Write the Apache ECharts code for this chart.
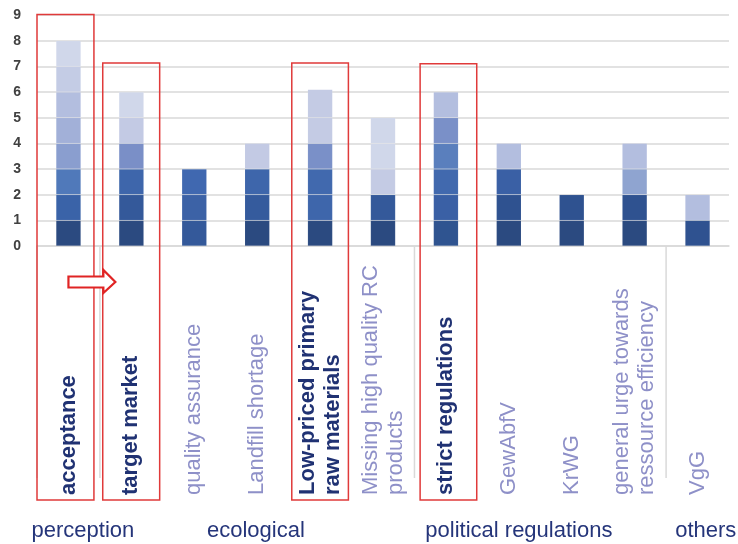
<!DOCTYPE html>
<html><head><meta charset="utf-8">
<script src="https://cdn.jsdelivr.net/npm/echarts@6/dist/echarts.min.js"></script>
<style>html,body{margin:0;padding:0;background:#fff}#c{width:738px;height:544px}</style>
</head><body><div id="c"></div>
<script>
const categories = ['acceptance','target market','quality assurance','Landfill shortage','Low-priced primary\nraw materials','Missing high quality RC\nproducts','strict regulations','GewAbfV','KrWG','general urge towards\nressource efficiency','VgG'];
const highlighted = ['acceptance','target market','Low-priced primary\nraw materials','strict regulations'];
const yTicks = [0,1,2,3,4,5,6,7,8,9];
// stacked segment values, level 1 (bottom) to level 8 (top)
const level1 = [1,1,1,1,1,1,1,1,1,1,1];
const level2 = [1,1,1,1,1,1,1,1,1,1,1];
const level3 = [1,1,1,1,1,1,1,1,0,1,0];
const level4 = [1,1,0,1,1,1,1,1,0,1,0];
const level5 = [1,1,0,0,1,1,1,0,0,0,0];
const level6 = [1,1,0,0,1.1,0,1,0,0,0,0];
const level7 = [1,0,0,0,0,0,0,0,0,0,0];
const level8 = [1,0,0,0,0,0,0,0,0,0,0];
const levels = [level1,level2,level3,level4,level5,level6,level7,level8];
const groupLabels = ['perception','ecological','political regulations','others'];
const groupLabelPos = [0.23, 2.98, 7.16, 10.13];   // in category units
const groupSeparators = [-0.5, 0.5, 5.5, 9.5];
// segment colours per category, bottom to top (style only)
const segColors = [
  ['#2b4a80','#3a63a8','#5079ba','#8a9ecf','#a2b0d8','#b3bedf','#c4cce5','#d0d7ea'],
  ['#2b4a80','#34599a','#3e66ab','#7a8fc7','#c3cae4','#d0d7ea'],
  ['#34599a','#3c62a6','#4068b0'],
  ['#2b4a80','#355b9d','#3e66ab','#c3cae4'],
  ['#2b4a80','#3e66ab','#4169ae','#7a90c8','#c4cbe4','#c4cbe4'],
  ['#2b4a80','#34599a','#c4cbe4','#d0d7ea','#d0d7ea'],
  ['#2f5490','#3a60a5','#4169ae','#5a7fbd','#7a90c8','#b3bedf'],
  ['#2b4a80','#2f5290','#3a60a5','#b3bedf'],
  ['#2b4a80','#2f5290'],
  ['#2b4a80','#2f5290','#8fa4d0','#b3bedf'],
  ['#2f5290','#b3bedf']
];
// annotation boxes: [category index, left offset, right offset, top value]
const boxes = [[0,-0.5,0.405,9.02],[1,-0.455,0.45,7.13],[4,-0.45,0.45,7.13],[6,-0.41,0.49,7.1]];

const FONT = "'Liberation Sans', Arial, sans-serif";
const chart = echarts.init(document.getElementById('c'));

const series = levels.map((lv,k)=>({
  type:'bar', stack:'total', barWidth:25, animation:false,
  itemStyle:{borderColor:'rgba(255,255,255,0.12)',borderWidth:0.6},
  data: lv.map((v,i)=> v ? {value:v, itemStyle:{color:segColors[i][k]}} : '-')
}));

chart.setOption({
  animation:false,
  grid:{left:37,right:9,top:15,bottom:298},
  xAxis:{type:'category',data:categories,
    axisLine:{lineStyle:{color:'#d9d9d9',width:1.5}},axisTick:{show:false},
    axisLabel:{interval:0,rotate:90,margin:249,align:'left',fontFamily:FONT,
      formatter:(v)=>{const st=highlighted.includes(v)?'b':'n';return v.split('\n').map(l=>'{'+st+'|'+l+'}').join('\n');},
      rich:{b:{fontSize:22,fontWeight:'bold',color:'#203273',fontFamily:FONT,lineHeight:25},
            n:{fontSize:22,color:'#8e90c8',fontFamily:FONT,lineHeight:25}}}},
  yAxis:{type:'value',min:0,max:9,interval:1,
    axisLine:{show:false},axisTick:{show:false},
    splitLine:{lineStyle:{color:'#d9d9d9',width:1.5}},
    axisLabel:{margin:16,fontSize:14,fontWeight:'bold',color:'#404040',fontFamily:FONT,
      formatter:(v)=>String(yTicks[v]!==undefined?yTicks[v]:v)}},
  series
});

function px(idx){const a=chart.convertToPixel({xAxisIndex:0},0),b=chart.convertToPixel({xAxisIndex:0},1);return a+idx*(b-a);}
function py(v){return chart.convertToPixel({yAxisIndex:0},v);}
const y0 = py(0);
const g = [];
groupSeparators.forEach(s=>g.push({type:'line',shape:{x1:px(s),y1:y0,x2:px(s),y2:y0+232},style:{stroke:'#d9d9d9',lineWidth:1.5},silent:true}));
groupLabels.forEach((t,i)=>g.push({type:'text',x:px(groupLabelPos[i]),y:y0+285,style:{text:t,fill:'#25357a',font:'22px '+FONT,textAlign:'center',textVerticalAlign:'middle'}}));
boxes.forEach(([c,l,r,top])=>{const x1=px(c+l),x2=px(c+r),yt=py(top);
  g.push({type:'rect',shape:{x:x1,y:yt,width:x2-x1,height:y0+254-yt},style:{fill:'none',stroke:'#e03a3a',lineWidth:1.5},z:100});});
// hollow arrow from category 0 centre to box of category 1
(function(){const xs=px(0),xe=px(1)-16,xh=xe-12,yc=y0+36;
  g.push({type:'polygon',shape:{points:[[xs,yc-5.5],[xh,yc-5.5],[xh,yc-12],[xe,yc],[xh,yc+11],[xh,yc+5.5],[xs,yc+5.5]]},style:{fill:'#fff',stroke:'#e02424',lineWidth:2.2},z:101});
})();
chart.setOption({graphic:g});
</script></body></html>
